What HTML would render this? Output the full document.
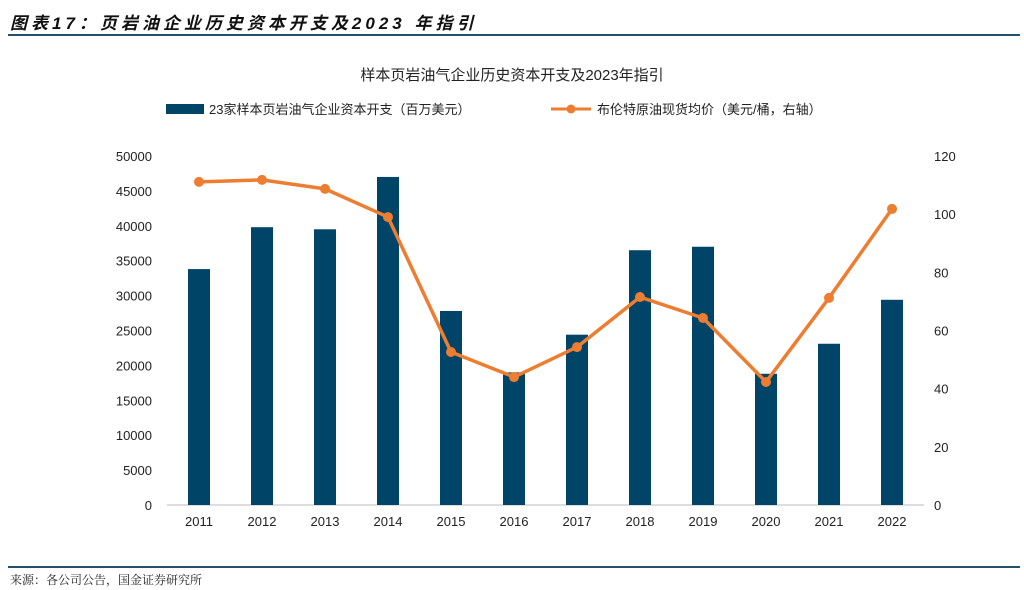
<!DOCTYPE html>
<html><head><meta charset="utf-8"><style>
body{margin:0;background:#fff;width:1024px;height:590px;overflow:hidden;font-family:"Liberation Sans","Noto Sans CJK SC",sans-serif;}
.hdr{position:absolute;left:10px;top:9px;font-size:17px;font-weight:bold;font-style:italic;color:#111;letter-spacing:4px;}
.line{position:absolute;left:8px;width:1012px;height:2px;background:#25506b;}
.src{position:absolute;left:10px;top:571px;font-size:12px;color:#222;font-family:"Noto Serif CJK SC","Liberation Serif",serif;}
</style></head><body>
<div class="hdr">图表17：页岩油企业历史资本开支及2023 年指引</div>
<div class="line" style="top:34px"></div>
<div class="line" style="top:566px;height:1.5px"></div>
<div class="src">来源：各公司公告，国金证券研究所</div>
<svg id="chart" width="1024" height="590" style="position:absolute;left:0;top:0"></svg>
<script>
const years=['2011','2012','2013','2014','2015','2016','2017','2018','2019','2020','2021','2022'];
const capex=[33800,39800,39500,47000,27800,19000,24400,36500,37000,18800,23100,29400];
const brent=[111.1,111.8,108.7,99.0,52.6,44.0,54.3,71.5,64.3,42.3,71.2,101.8];
const leftTicks=[0,5000,10000,15000,20000,25000,30000,35000,40000,45000,50000];
const rightTicks=[0,20,40,60,80,100,120];
const NS='http://www.w3.org/2000/svg';
const svg=document.getElementById('chart');
const y0=505,yTop=156;
const yL=v=>y0-(v/50000)*(y0-yTop);
const yR=v=>y0-(v/120)*(y0-yTop);
const xC=i=>199+i*63;
function mk(t,a,txt){const e=document.createElementNS(NS,t);for(const k in a)e.setAttribute(k,a[k]);if(txt!==undefined)e.textContent=txt;svg.appendChild(e);return e;}
let e;
e=mk('text',{x:512,y:80,'text-anchor':'middle','font-size':15,fill:'#222'},'样本页岩油气企业历史资本开支及2023年指引');


e=mk('rect',{x:166,y:104,width:38,height:10,fill:'#004468'});


e=mk('text',{x:209,y:114,'font-size':13,fill:'#222'},'23家样本页岩油气企业资本开支（百万美元）');


e=mk('line',{x1:551,y1:109,x2:591,y2:109,stroke:'#ed7d31','stroke-width':3});


e=mk('circle',{cx:571,cy:109,r:4.5,fill:'#ed7d31'});


e=mk('text',{x:597,y:114,'font-size':13,fill:'#222'},'布伦特原油现货均价（美元/桶，右轴）');


leftTicks.forEach(v=>{e=mk('text',{x:152,y:yL(v)+5,'text-anchor':'end','font-size':13,fill:'#222'},String(v));

});
rightTicks.forEach(v=>{e=mk('text',{x:934,y:yR(v)+5,'font-size':13,fill:'#222'},String(v));

});
e=mk('line',{x1:167,y1:y0,x2:924,y2:y0,stroke:'#bbb','stroke-width':1});


years.forEach((y,i)=>{
e=mk('rect',{x:xC(i)-11,y:yL(capex[i]),width:22,height:y0-yL(capex[i]),fill:'#004468'});


e=mk('text',{x:xC(i),y:526,'text-anchor':'middle','font-size':13,fill:'#222'},y);


});
e=mk('polyline',{points:brent.map((v,i)=>xC(i)+','+yR(v)).join(' '),fill:'none',stroke:'#ed7d31','stroke-width':3.5,'stroke-linejoin':'round'});


brent.forEach((v,i)=>{e=mk('circle',{cx:xC(i),cy:yR(v),r:5,fill:'#ed7d31'});

});
</script>
</body></html>
